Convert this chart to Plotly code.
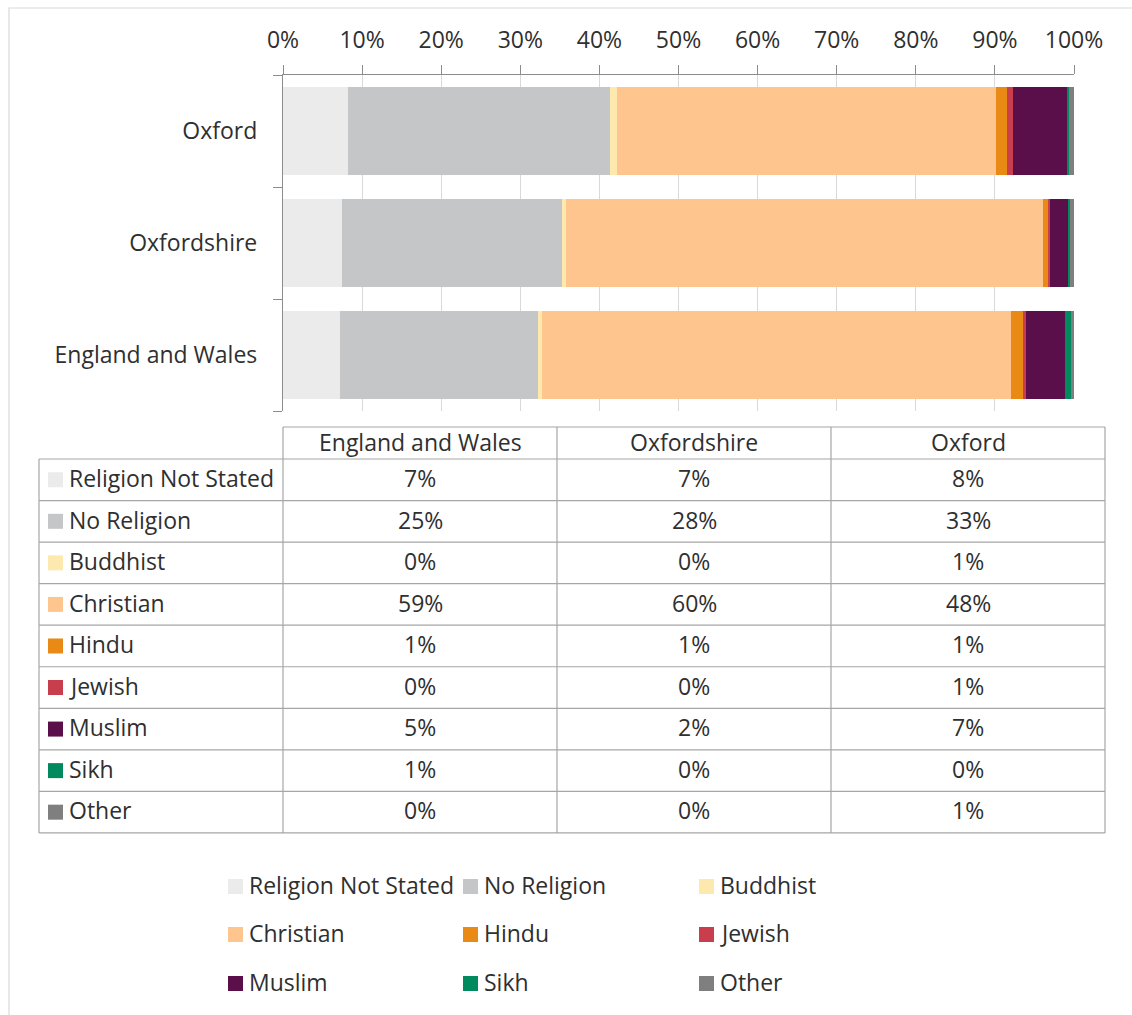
import plotly.graph_objects as go

# Religion share by area (percent of residents)
categories = ["England and Wales", "Oxfordshire", "Oxford"]
religions = ["Religion Not Stated", "No Religion", "Buddhist", "Christian",
             "Hindu", "Jewish", "Muslim", "Sikh", "Other"]
not_stated = [7.2, 7.4, 8.2]
no_religion = [25.1, 27.9, 33.1]
buddhist = [0.45, 0.45, 0.9]
christian = [59.3, 60.3, 48.0]
hindu = [1.45, 0.6, 1.3]
jewish = [0.45, 0.3, 0.8]
muslim = [4.85, 2.4, 6.8]
sikh = [0.8, 0.2, 0.3]
other = [0.4, 0.45, 0.6]
x_ticks = list(range(0, 101, 10))
x_tick_labels = [f"{v}%" for v in x_ticks]

series = [not_stated, no_religion, buddhist, christian, hindu, jewish, muslim, sikh, other]
colors = ["#ebebeb", "#c5c6c8", "#fde8ae", "#fec68e", "#e98a17",
          "#c83e4c", "#5a0f4b", "#008a5e", "#7f7f7f"]

W, H = 1132, 1015
L, R, T, B = 283, 1074, 75, 411
PW, PH = R - L, B - T
FONT = "Open Sans"
FS = 23
TXT = "#2f2f2f"
GRID = "#d9d9d9"
LINE = "#a6a6a6"
TEXT_LIFT = 1.8  # optical centring of text within rows


def px(x):
    return (x - L) / PW


def py(y):
    return 1 - (y - T) / PH


fig = go.Figure()
for name, vals, col in zip(religions, series, colors):
    fig.add_trace(go.Bar(
        y=categories, x=vals, name=name, orientation="h",
        marker=dict(color=col, line=dict(width=0)),
        showlegend=False,
    ))

shapes = []
annotations = []

# outer chart frame
shapes.append(dict(type="rect", xref="paper", yref="paper",
                   x0=px(9), x1=px(1145), y0=py(8), y1=py(1030),
                   line=dict(color=GRID, width=1.2), layer="below"))

# data table below the bars
col_edges = [39, 283, 557, 831, 1105]
head_top, row_top, row_h = 427, 459, 41.55
n_rows = len(religions)
table_bottom = row_top + row_h * n_rows

# header cells (data columns only)
shapes.append(dict(type="line", xref="paper", yref="paper",
                   x0=px(283), x1=px(1105), y0=py(head_top), y1=py(head_top),
                   line=dict(color=LINE, width=1.2)))
for xe in col_edges[1:]:
    shapes.append(dict(type="line", xref="paper", yref="paper",
                       x0=px(xe), x1=px(xe), y0=py(head_top), y1=py(table_bottom),
                       line=dict(color=LINE, width=1.2)))
shapes.append(dict(type="line", xref="paper", yref="paper",
                   x0=px(39), x1=px(39), y0=py(row_top), y1=py(table_bottom),
                   line=dict(color=LINE, width=1.2)))
for i in range(n_rows + 1):
    yy = row_top + row_h * i
    shapes.append(dict(type="line", xref="paper", yref="paper",
                       x0=px(39), x1=px(1105), y0=py(yy), y1=py(yy),
                       line=dict(color=LINE, width=1.2)))

col_centers = [(col_edges[k] + col_edges[k + 1]) / 2 for k in range(1, 4)]
for c, cat in enumerate(categories):
    annotations.append(dict(xref="paper", yref="paper", x=px(col_centers[c]),
                            y=py((head_top + row_top) / 2 - 1), text=cat, showarrow=False,
                            xanchor="center", yanchor="middle",
                            font=dict(family=FONT, size=FS, color=TXT)))

for i, (name, vals, col) in enumerate(zip(religions, series, colors)):
    yc = row_top + row_h * i + row_h / 2
    shapes.append(dict(type="rect", xref="paper", yref="paper",
                       x0=px(48), x1=px(63), y0=py(yc - 7.5), y1=py(yc + 7.5),
                       fillcolor=col, line=dict(width=0)))
    annotations.append(dict(xref="paper", yref="paper", x=px(67), y=py(yc - TEXT_LIFT),
                            text=name, showarrow=False, xanchor="left", yanchor="middle",
                            font=dict(family=FONT, size=FS, color=TXT)))
    for c in range(3):
        annotations.append(dict(xref="paper", yref="paper", x=px(col_centers[c]),
                                y=py(yc - TEXT_LIFT),
                                text=f"{vals[c] / 100:.0%}", showarrow=False,
                                xanchor="center", yanchor="middle",
                                font=dict(family=FONT, size=FS, color=TXT)))

# legend grid at the bottom
leg_sq_x = [228, 463, 699]
leg_rows_y = [886.5, 934.5, 983.5]
for i, (name, col) in enumerate(zip(religions, colors)):
    r, c = divmod(i, 3)
    x0, yc = leg_sq_x[c], leg_rows_y[r]
    shapes.append(dict(type="rect", xref="paper", yref="paper",
                       x0=px(x0), x1=px(x0 + 15), y0=py(yc - 7.5), y1=py(yc + 7.5),
                       fillcolor=col, line=dict(width=0)))
    annotations.append(dict(xref="paper", yref="paper", x=px(x0 + 19), y=py(yc - TEXT_LIFT),
                            text=name, showarrow=False, xanchor="left", yanchor="middle",
                            font=dict(family=FONT, size=FS, color=TXT)))

fig.update_layout(
    width=W, height=H,
    margin=dict(l=L, r=W - R, t=T, b=H - B, autoexpand=False),
    barmode="stack", bargap=0.223,
    plot_bgcolor="white", paper_bgcolor="white",
    showlegend=False,
    shapes=shapes, annotations=annotations,
    xaxis=dict(side="top", range=[0, 100], tickvals=x_ticks, ticktext=x_tick_labels,
               showgrid=True, gridcolor=GRID, gridwidth=1.2,
               showline=True, linecolor="#8c8c8c", linewidth=1.2,
               ticks="outside", ticklen=9, tickcolor="#8c8c8c",
               tickfont=dict(family=FONT, size=FS, color=TXT),
               ticklabelstandoff=8, zeroline=False, fixedrange=True),
    yaxis=dict(categoryorder="array", categoryarray=categories,
               showline=True, linecolor="#8c8c8c", linewidth=1.2,
               ticks="outside", tickson="boundaries", ticklen=9, tickcolor="#8c8c8c",
               tickfont=dict(family=FONT, size=FS, color=TXT),
               ticklabelstandoff=20, showgrid=False, fixedrange=True),
)

fig.write_html("out.html")
